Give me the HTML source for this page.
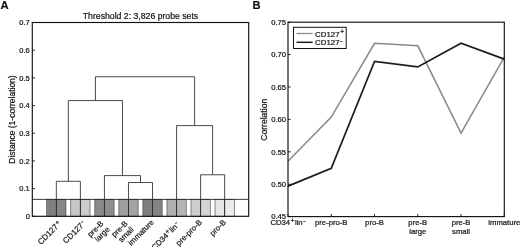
<!DOCTYPE html><html><head><meta charset="utf-8"><title>Figure</title><style>html,body{margin:0;padding:0;background:#fff}body{width:520px;height:247px;overflow:hidden}</style></head><body><svg width="520" height="247" viewBox="0 0 520 247" style="display:block;filter:blur(0.3px)">
<rect width="520" height="247" fill="#fff"/>
<g font-family="'Liberation Sans', Arial, sans-serif" fill="#161616" stroke="#161616" stroke-width="0.22">
<rect x="46.73" y="199.36" width="9.62" height="16.94" fill="#808080" stroke="#303030" stroke-width="0.55"/>
<rect x="56.34" y="199.36" width="9.62" height="16.94" fill="#868686" stroke="#303030" stroke-width="0.55"/>
<rect x="70.77" y="199.36" width="9.62" height="16.94" fill="#c6c6c6" stroke="#303030" stroke-width="0.55"/>
<rect x="80.39" y="199.36" width="9.62" height="16.94" fill="#cccccc" stroke="#303030" stroke-width="0.55"/>
<rect x="94.82" y="199.36" width="9.62" height="16.94" fill="#8a8a8a" stroke="#303030" stroke-width="0.55"/>
<rect x="104.43" y="199.36" width="9.62" height="16.94" fill="#8e8e8e" stroke="#303030" stroke-width="0.55"/>
<rect x="118.86" y="199.36" width="9.62" height="16.94" fill="#a0a0a0" stroke="#303030" stroke-width="0.55"/>
<rect x="128.48" y="199.36" width="9.62" height="16.94" fill="#a4a4a4" stroke="#303030" stroke-width="0.55"/>
<rect x="142.90" y="199.36" width="9.62" height="16.94" fill="#7e7e7e" stroke="#303030" stroke-width="0.55"/>
<rect x="152.52" y="199.36" width="9.62" height="16.94" fill="#848484" stroke="#303030" stroke-width="0.55"/>
<rect x="166.95" y="199.36" width="9.62" height="16.94" fill="#b0b0b0" stroke="#303030" stroke-width="0.55"/>
<rect x="176.57" y="199.36" width="9.62" height="16.94" fill="#b4b4b4" stroke="#303030" stroke-width="0.55"/>
<rect x="190.99" y="199.36" width="9.62" height="16.94" fill="#cecece" stroke="#303030" stroke-width="0.55"/>
<rect x="200.61" y="199.36" width="9.62" height="16.94" fill="#d4d4d4" stroke="#303030" stroke-width="0.55"/>
<rect x="215.04" y="199.36" width="9.62" height="16.94" fill="#e6e6e6" stroke="#303030" stroke-width="0.55"/>
<rect x="224.66" y="199.36" width="9.62" height="16.94" fill="#ebebeb" stroke="#303030" stroke-width="0.55"/>
<line x1="32.3" x2="248.7" y1="199.36" y2="199.36" stroke="#222" stroke-width="0.9"/>
<path d="M56.34,216.30V181.31H80.39V216.30M128.48,216.30V182.52H152.52V216.30M104.43,216.30V175.60H140.50V182.52M68.37,181.31V100.57H122.47V175.60M200.61,216.30V174.77H224.66V216.30M176.57,216.30V125.60H212.63V174.77M95.42,100.57V76.76H194.60V125.60" fill="none" stroke="#2a2a2a" stroke-width="0.85"/>
<rect x="32.3" y="22.5" width="216.40" height="193.80" fill="none" stroke="#111" stroke-width="1.15"/>
<line x1="32.3" x2="34.9" y1="216.30" y2="216.30" stroke="#111" stroke-width="0.9"/>
<text x="29.799999999999997" y="219.10" font-size="7.5" text-anchor="end">0</text>
<line x1="32.3" x2="34.9" y1="188.61" y2="188.61" stroke="#111" stroke-width="0.9"/>
<text x="29.799999999999997" y="191.41" font-size="7.5" text-anchor="end">0.1</text>
<line x1="32.3" x2="34.9" y1="160.93" y2="160.93" stroke="#111" stroke-width="0.9"/>
<text x="29.799999999999997" y="163.73" font-size="7.5" text-anchor="end">0.2</text>
<line x1="32.3" x2="34.9" y1="133.24" y2="133.24" stroke="#111" stroke-width="0.9"/>
<text x="29.799999999999997" y="136.04" font-size="7.5" text-anchor="end">0.3</text>
<line x1="32.3" x2="34.9" y1="105.56" y2="105.56" stroke="#111" stroke-width="0.9"/>
<text x="29.799999999999997" y="108.36" font-size="7.5" text-anchor="end">0.4</text>
<line x1="32.3" x2="34.9" y1="77.87" y2="77.87" stroke="#111" stroke-width="0.9"/>
<text x="29.799999999999997" y="80.67" font-size="7.5" text-anchor="end">0.5</text>
<line x1="32.3" x2="34.9" y1="50.19" y2="50.19" stroke="#111" stroke-width="0.9"/>
<text x="29.799999999999997" y="52.99" font-size="7.5" text-anchor="end">0.6</text>
<line x1="32.3" x2="34.9" y1="22.50" y2="22.50" stroke="#111" stroke-width="0.9"/>
<text x="29.799999999999997" y="25.30" font-size="7.5" text-anchor="end">0.7</text>
<text x="140.5" y="19.1" font-size="8.7" text-anchor="middle">Threshold 2: 3,826 probe sets</text>
<text x="0.5" y="8.7" font-size="11.2" font-weight="bold" fill="#111">A</text>
<text transform="translate(15.0,119.5) rotate(-90)" font-size="8.5" text-anchor="middle">Distance (1-correlation)</text>
<text transform="translate(61.94,224.20) rotate(-45)" font-size="8.1" text-anchor="end">CD127<tspan font-size="6.6" dy="-2.4" dx="0.7">+</tspan></text>
<text transform="translate(85.99,224.20) rotate(-45)" font-size="8.1" text-anchor="end">CD127<tspan font-size="6.6" dy="-2.4" dx="0.7">-</tspan></text>
<text transform="translate(104.03,224.10) rotate(-45)" font-size="7.8" text-anchor="end">pre-B</text>
<text transform="translate(110.23,229.90) rotate(-45)" font-size="7.8" text-anchor="end">large</text>
<text transform="translate(128.08,224.10) rotate(-45)" font-size="7.8" text-anchor="end">pre-B</text>
<text transform="translate(134.28,229.90) rotate(-45)" font-size="7.8" text-anchor="end">small</text>
<text transform="translate(154.32,222.90) rotate(-45)" font-size="7.8" text-anchor="end">immature</text>
<text transform="translate(179.77,225.30) rotate(-45)" font-size="7.8" text-anchor="end">CD34<tspan font-size="6.6" dy="-2.4" dx="0.7">+</tspan><tspan dy="2.4" dx="0.3">lin</tspan><tspan font-size="6.6" dy="-2.4" dx="0.7">-</tspan></text>
<text transform="translate(202.41,222.90) rotate(-45)" font-size="7.8" text-anchor="end">pre-pro-B</text>
<text transform="translate(226.46,222.90) rotate(-45)" font-size="7.8" text-anchor="end">pro-B</text>
<polyline fill="none" stroke="#8a8a8a" stroke-width="1.55" stroke-linejoin="miter" points="288.00,161.26 331.26,117.07 374.52,43.26 417.78,45.79 461.04,133.01 504.30,57.19"/>
<polyline fill="none" stroke="#1c1c1c" stroke-width="1.7" stroke-linejoin="miter" points="288.00,186.14 331.26,168.32 374.52,61.40 417.78,66.91 461.04,43.26 504.30,59.14"/>
<rect x="288.0" y="22.2" width="216.30" height="194.40" fill="none" stroke="#111" stroke-width="1.15"/>
<line x1="288.0" x2="290.6" y1="216.60" y2="216.60" stroke="#111" stroke-width="0.9"/>
<text x="286.1" y="219.40" font-size="7.7" text-anchor="end">0.45</text>
<line x1="288.0" x2="290.6" y1="184.20" y2="184.20" stroke="#111" stroke-width="0.9"/>
<text x="286.1" y="187.00" font-size="7.7" text-anchor="end">0.50</text>
<line x1="288.0" x2="290.6" y1="151.80" y2="151.80" stroke="#111" stroke-width="0.9"/>
<text x="286.1" y="154.60" font-size="7.7" text-anchor="end">0.55</text>
<line x1="288.0" x2="290.6" y1="119.40" y2="119.40" stroke="#111" stroke-width="0.9"/>
<text x="286.1" y="122.20" font-size="7.7" text-anchor="end">0.60</text>
<line x1="288.0" x2="290.6" y1="87.00" y2="87.00" stroke="#111" stroke-width="0.9"/>
<text x="286.1" y="89.80" font-size="7.7" text-anchor="end">0.65</text>
<line x1="288.0" x2="290.6" y1="54.60" y2="54.60" stroke="#111" stroke-width="0.9"/>
<text x="286.1" y="57.40" font-size="7.7" text-anchor="end">0.70</text>
<line x1="288.0" x2="290.6" y1="22.20" y2="22.20" stroke="#111" stroke-width="0.9"/>
<text x="286.1" y="25.00" font-size="7.7" text-anchor="end">0.75</text>
<line x1="288.00" x2="288.00" y1="216.6" y2="214.0" stroke="#111" stroke-width="0.9"/>
<line x1="331.26" x2="331.26" y1="216.6" y2="214.0" stroke="#111" stroke-width="0.9"/>
<line x1="374.52" x2="374.52" y1="216.6" y2="214.0" stroke="#111" stroke-width="0.9"/>
<line x1="417.78" x2="417.78" y1="216.6" y2="214.0" stroke="#111" stroke-width="0.9"/>
<line x1="461.04" x2="461.04" y1="216.6" y2="214.0" stroke="#111" stroke-width="0.9"/>
<line x1="504.30" x2="504.30" y1="216.6" y2="214.0" stroke="#111" stroke-width="0.9"/>
<text x="252.5" y="8.5" font-size="11.1" font-weight="bold" fill="#111">B</text>
<text transform="translate(267.2,119.8) rotate(-90)" font-size="8.6" text-anchor="middle">Correlation</text>
<text x="288.00" y="225.20" font-size="7.7" text-anchor="middle">CD34<tspan font-size="6.6" dy="-2.4" dx="0.7">+</tspan><tspan dy="2.4" dx="0.3">lin</tspan><tspan font-size="6.6" dy="-2.4" dx="0.7">-</tspan></text>
<text x="331.26" y="225.20" font-size="7.7" text-anchor="middle">pre-pro-B</text>
<text x="374.52" y="225.20" font-size="7.7" text-anchor="middle">pro-B</text>
<text x="417.78" y="225.20" font-size="7.7" text-anchor="middle">pre-B</text>
<text x="417.78" y="234.20" font-size="7.7" text-anchor="middle">large</text>
<text x="461.04" y="225.20" font-size="7.7" text-anchor="middle">pre-B</text>
<text x="461.04" y="234.20" font-size="7.7" text-anchor="middle">small</text>
<text x="504.30" y="225.20" font-size="7.7" text-anchor="middle">immature</text>
<rect x="293.5" y="27.3" width="52.7" height="21.2" fill="#fff" stroke="#111" stroke-width="1"/>
<line x1="296.5" x2="312.7" y1="33.5" y2="33.5" stroke="#8c8c8c" stroke-width="1.3"/>
<line x1="296.5" x2="312.7" y1="42.3" y2="42.3" stroke="#1c1c1c" stroke-width="1.5"/>
<text x="315" y="36.5" font-size="7.9">CD127<tspan font-size="6.6" dy="-2.4" dx="0.7">+</tspan></text>
<text x="315" y="45.2" font-size="7.9">CD127<tspan font-size="6.6" dy="-2.4" dx="0.7">-</tspan></text>
</g></svg></body></html>
